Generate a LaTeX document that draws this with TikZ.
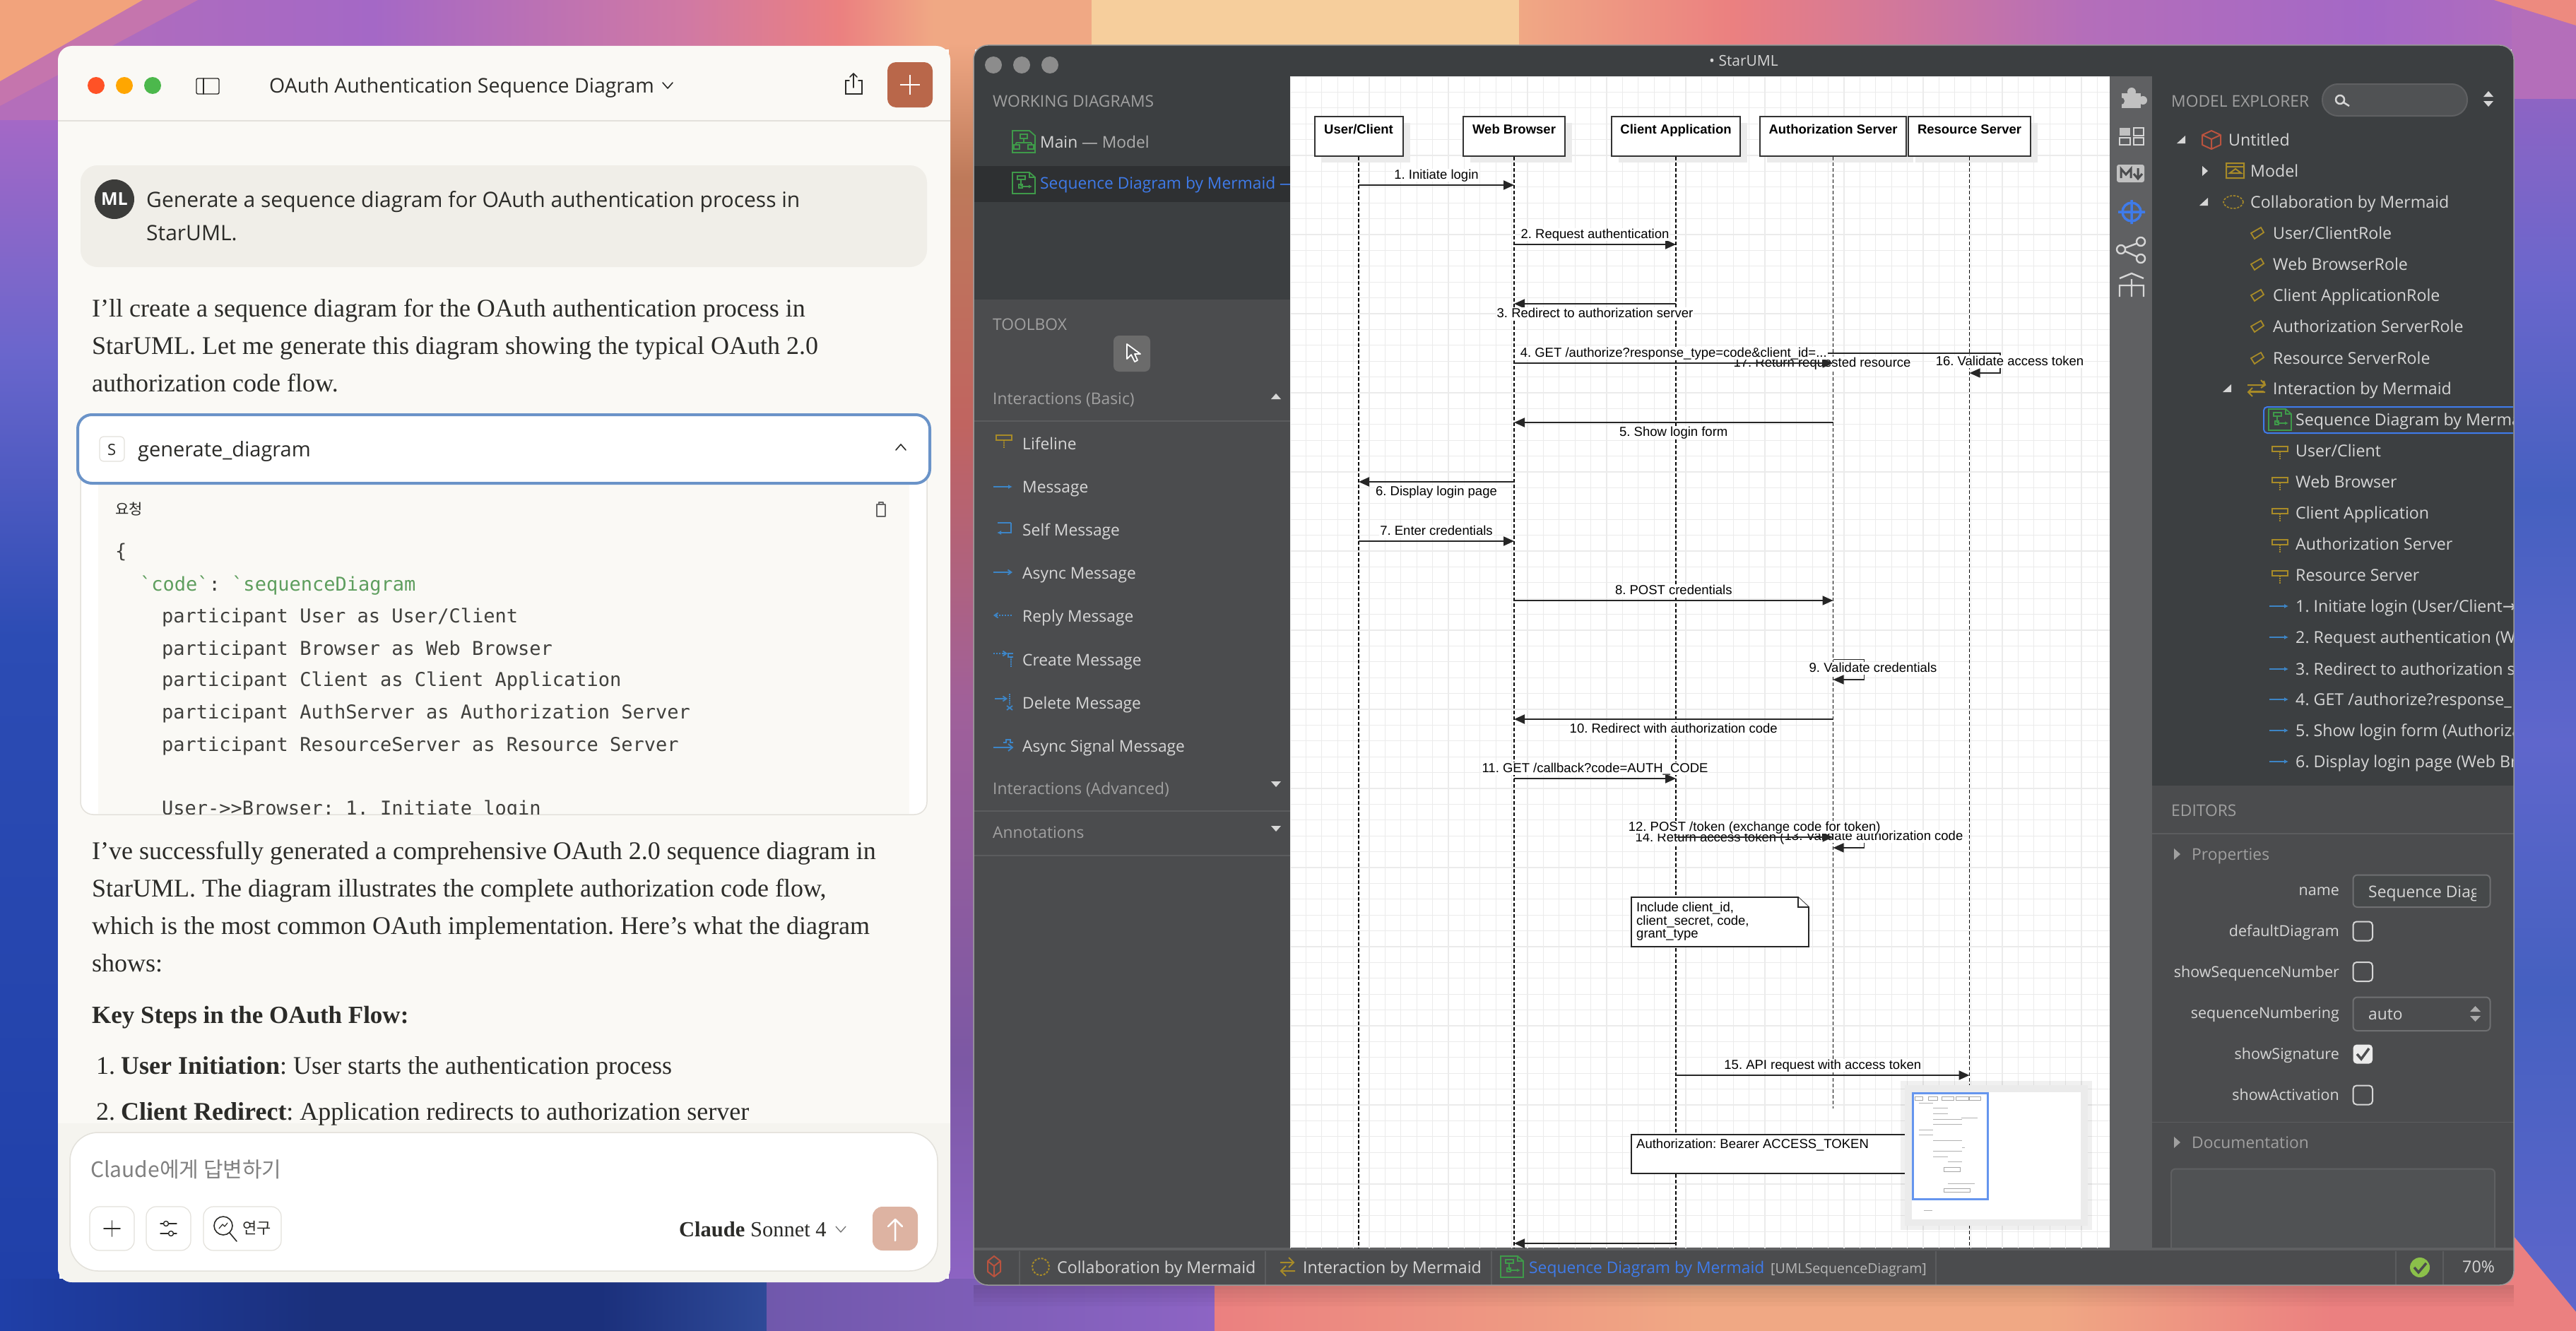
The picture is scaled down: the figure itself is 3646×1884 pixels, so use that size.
\documentclass[tikz,border=0pt]{standalone}
\usepackage{fontspec}
\setmainfont{Liberation Serif}
\newfontfamily\chatsans{Open Sans}
\newfontfamily\uisans{Open Sans}
\newfontfamily\umlfont{Liberation Sans}
\newfontfamily\codefont{DejaVu Sans Mono}
\newfontfamily\krfont{Noto Sans CJK KR}
\newfontfamily\symfont{DejaVu Sans}
\usetikzlibrary{arrows.meta,shadows}
\def\fsz#1{\fontsize{#1}{#1}\selectfont}
% wallpaper
\definecolor{worange}{HTML}{F2A37C}
\definecolor{wpeach}{HTML}{F0A884}
\definecolor{wsand}{HTML}{F6CE9C}
\definecolor{wsalmon}{HTML}{EB8080}
\definecolor{wrose}{HTML}{D079A4}
\definecolor{wmauve}{HTML}{B46EBA}
\definecolor{wviolet}{HTML}{A468C6}
\definecolor{wlilac}{HTML}{8D64C4}
\definecolor{wiris}{HTML}{6A66CC}
\definecolor{wblue}{HTML}{4560C0}
\definecolor{wperi}{HTML}{5F66CC}
\definecolor{wroyal}{HTML}{2C4CB4}
\definecolor{wcobalt}{HTML}{1F3FA8}
\definecolor{wnavy}{HTML}{1B307C}
\definecolor{wdeep}{HTML}{2F4A98}
\definecolor{wbrick}{HTML}{C06460}
\definecolor{wclay}{HTML}{BE7A5A}
\definecolor{wplum}{HTML}{A0609A}
\definecolor{wgrape}{HTML}{7C58A4}
\definecolor{wdusk}{HTML}{7058AC}
% chat window
\definecolor{chatbg}{HTML}{FAF9F5}
\definecolor{chatfoot}{HTML}{F5F4EF}
\definecolor{chatbubble}{HTML}{F0EEE8}
\definecolor{chatink}{HTML}{2B2B28}
\definecolor{chatline}{HTML}{E3E1DB}
\definecolor{chatrust}{HTML}{B9674A}
\definecolor{chatsend}{HTML}{DDB3A2}
\definecolor{chatblue}{HTML}{6A93C8}
\definecolor{codegreen}{HTML}{5E9E5E}
% staruml
\definecolor{umldark}{HTML}{3C3F41}
\definecolor{umlmid}{HTML}{4B4C4E}
\definecolor{umlbar}{HTML}{5F6062}
\definecolor{umlsel}{HTML}{2E3032}
\definecolor{umlrule}{HTML}{5B5C5E}
\definecolor{umlink}{HTML}{D6D6D6}
\definecolor{umlgray}{HTML}{A0A0A0}
\definecolor{umlblue}{HTML}{3F7BEA}
\definecolor{umlgold}{HTML}{A88B28}
\definecolor{umlgreen}{HTML}{3F9A4A}
\definecolor{umlarrow}{HTML}{3D85C6}
\definecolor{umlred}{HTML}{B9533F}
\definecolor{umlgrass}{HTML}{8BC04A}
\tikzset{
    txt/.style={anchor=west,inner sep=0pt,text depth=0pt,text height=#1},
    chathead/.style={txt=20pt,font=\chatsans\fsz{30},text=chatink},
    chatbody/.style={txt=23pt,font=\fsz{36},text=chatink},
    codeline/.style={txt=19pt,font=\codefont\fsz{27},text=chatink!90},
    uitext/.style={txt=16pt,font=\uisans\fsz{22.8},text=umlink},
    treetext/.style={uitext,font=\uisans\fsz{23.2}},
    grayhead/.style={uitext,text=umlgray},
    proplabel/.style={uitext,anchor=east,font=\uisans\fsz{21.5}},
    statustext/.style={uitext,font=\uisans\fsz{23.2}},
    chatkey/.style={draw=chatline,line width=1.2pt,fill=white,rounded corners=14pt},
    thinicon/.style={draw=chatink,line width=1.6pt,line cap=round,line join=round},
    lighticon/.style={draw=umlink,line width=2pt},
    gridline/.style={draw=black!8,line width=1.2pt},
    headbox/.style={draw=black!80,line width=2pt,fill=white,inner sep=0pt,
        text height=24pt,text depth=32pt,minimum width=#1,anchor=north,
        font=\umlfont\bfseries\fsz{18.5},
        drop shadow={shadow xshift=10pt,shadow yshift=-9pt,fill=black!8,opacity=1}},
    lifeline/.style={draw=black,line width=1.5pt,dash pattern=on 5pt off 3pt},
    msgline/.style={draw=black!85,line width=2pt,-{Triangle[length=15pt,width=13pt]}},
    selfline/.style={draw=black!85,line width=1.5pt,-{Triangle[length=15pt,width=13pt]}},
    msglabel/.style={fill=white,inner sep=1pt,text height=13pt,text depth=3pt,font=\umlfont\fsz{18.5}},
    msgup/.style={msglabel,midway,yshift=14pt},
    msgdown/.style={msglabel,midway,yshift=-14pt},
    notebox/.style={draw=black!85,line width=1.8pt,fill=white}
}
\def\DiagIcon#1#2{
    \begin{scope}[shift={(#1,#2)},draw=umlgreen,line width=1.8pt]
        \draw (0,0) -- (24,0) -- (32,7) -- (32,30) -- (0,30) -- cycle;
        \draw (24,0) -- (24,7) -- (32,7);
        \draw (7,5) rectangle (18,10) (12,10) -- (12,20) (9,17) rectangle (14,22);
        \draw[-{Latex[length=5pt,width=5pt]}] (13,20) -- (28,20);
    \end{scope}
}
\def\LifeIcon#1#2{
    \begin{scope}[shift={(#1,#2)},draw=umlgold,line width=1.8pt]
        \draw (-11,-8) rectangle (11,-1);
        \draw[line width=1.2pt,dash pattern=on 1.5pt off 1.5pt] (0,-1) -- (0,10);
    \end{scope}
}
\def\ArrowIcon#1#2{
    \draw[draw=umlarrow,line width=1.8pt,-{Latex[length=6pt,width=6pt]}] (#1,#2) -- ++(27,0);
}
\def\RoleIcon#1#2{
    \draw[draw=umlgold,line width=1.8pt] (#1-9,#2) -- (#1+5,#2-8) -- (#1+9,#2-1) -- (#1-4,#2+8) -- cycle;
}
\begin{document}
\frenchspacing
\begin{tikzpicture}[x=1pt,y=-1pt]
    \useasboundingbox (0,0) rectangle (3646,1884);
    % wallpaper
    \foreach \xa/\xb/\ca/\cb in {0/528/wmauve/wviolet,528/968/wviolet/wrose,968/1188/wrose/wsalmon,
        1188/1320/wsalmon/wpeach,1320/1545/wpeach/wpeach,1545/2150/wsand/wsand,2150/2450/wpeach/wsalmon,
        2450/2950/wsalmon/wmauve,2950/3350/wmauve/wviolet,3350/3646/wviolet/wmauve}
        \shade[left color=\ca,right color=\cb] (\xa,0) rectangle (\xb+1,70);
    \foreach \ya/\yb/\ca/\cb in {0/170/wmauve/wmauve,170/500/wviolet/wiris,500/900/wiris/wroyal,900/1884/wroyal/wcobalt}
        \shade[top color=\ca,bottom color=\cb] (0,\ya) rectangle (84,\yb+1);
    \fill[wrose!60!wmauve] (0,115) -- (202,0) -- (280,0) -- (0,150) -- cycle;
    \fill[worange] (0,0) -- (202,0) -- (0,115) -- cycle;
    \foreach \ya/\yb/\ca/\cb in {60/250/wpeach/wclay,250/600/wclay/wbrick,600/1000/wbrick/wplum,1000/1500/wplum/wgrape,1500/1820/wgrape/wlilac}
        \shade[top color=\ca,bottom color=\cb] (1343,\ya) rectangle (1380,\yb+1);
    \foreach \ya/\yb/\ca/\cb in {0/140/wmauve/wmauve,140/400/wlilac/wiris,400/700/wiris/wblue,700/1050/wblue/wperi,1050/1400/wperi/wblue,1400/1884/wblue/wperi}
        \shade[top color=\ca,bottom color=\cb] (3555,\ya) rectangle (3646,\yb+1);
    \fill[wsalmon!70!worange] (3530,0) -- (3646,0) -- (3646,36) -- cycle;
    \fill[wsalmon] (3500,1750) -- (3558,1750) -- (3646,1857) -- (3646,1884) -- (3500,1884) -- cycle;
    \foreach \xa/\xb/\ca/\cb in {0/450/wcobalt/wnavy,450/850/wnavy/wnavy,850/1085/wnavy/wdeep,1085/1719/wdusk/wlilac,
        1719/2400/wsalmon/wpeach,2400/2900/wpeach/wpeach,2900/3300/wpeach/wsalmon,3300/3500/wsalmon/wsalmon}
        \shade[left color=\ca,right color=\cb] (\xa,1810) rectangle (\xb+1,1884);
    \foreach \h in {6,12,18,24,30}
        \fill[black,opacity=.025] (1378,1819) rectangle (3558,1819+\h);

    % chat window
    \fill[chatbg,rounded corners=20pt] (82,65) rectangle (1345,1815);
    \begin{scope}
        \clip[rounded corners=20pt] (82,65) rectangle (1345,1815);
        \fill[chatfoot] (82,1590) rectangle (1345,1815);
    \end{scope}
    \draw[chatline,line width=2pt] (82,171) -- (1345,171);
    \fill[fill=red!60!orange!85] (136,121) circle (12pt);
    \fill[fill=orange!70!yellow] (176,121) circle (12pt);
    \fill[fill=green!60!black!70!white] (216,121) circle (12pt);
    \draw[thinicon,line width=1.4pt,rounded corners=2pt] (278,111) rectangle (310,133);
    \draw[thinicon,line width=1.4pt] (288,111) -- (288,133);
    \node[chathead,font=\chatsans\fsz{28.5}] (chattitle) at (381,121) {OAuth Authentication Sequence Diagram};
    \draw[thinicon] (938,117) -- (945,125) -- (952,117);
    \draw[thinicon,line join=miter] (1202,114) -- (1197,114) -- (1197,133) -- (1220,133) -- (1220,114) -- (1215,114);
    \draw[thinicon] (1208,124) -- (1208,104) (1203,109) -- (1208,104) -- (1213,109);
    \fill[chatrust,rounded corners=12pt] (1256,88) rectangle (1320,152);
    \draw[white,line width=2.5pt] (1288,106) -- (1288,134) (1274,120) -- (1302,120);

    \fill[chatbubble,rounded corners=24pt] (114,234) rectangle (1312,378);
    \node[circle,fill=black!75!chatbubble,minimum size=56pt,inner sep=0pt,text=white,font=\chatsans\bfseries\fsz{25}] (avatar) at (162,282) {ML};
    \node[chathead] (ask1) at (207,283) {Generate a sequence diagram for OAuth authentication process in};
    \node[chathead] (ask2) at (207,330) {StarUML.};
    \node[chatbody] (intro1) at (130,437) {I'll create a sequence diagram for the OAuth authentication process in};
    \node[chatbody] (intro2) at (130,490) {StarUML. Let me generate this diagram showing the typical OAuth 2.0};
    \node[chatbody] (intro3) at (130,543) {authorization code flow.};

    % tool call panel
    \draw[chatline,line width=1.5pt,fill=white,rounded corners=18pt] (114,640) rectangle (1312,1153);
    \fill[chatbg] (139,680) rectangle (1287,1152);
    \begin{scope}
        \clip (139,680) rectangle (1287,1152);
        \node[chathead,txt=14pt,font=\krfont\fsz{21}] (reqlabel) at (163,721) {요청};
        \draw[thinicon,line width=1.2pt,draw=black!60] (1241,714) rectangle (1253,731);
        \draw[thinicon,line width=1.2pt,draw=black!60] (1244,714) -- (1244,711) -- (1250,711) -- (1250,714);
        \node[codeline] (code0) at (163,780) {\{};
        \node[codeline] (code1) at (198,827) {\textcolor{codegreen}{`code`}: \textcolor{codegreen}{`sequenceDiagram}};
        \node[codeline] (code2) at (229,872) {participant User as User/Client};
        \node[codeline] (code3) at (229,918) {participant Browser as Web Browser};
        \node[codeline] (code4) at (229,962) {participant Client as Client Application};
        \node[codeline] (code5) at (229,1008) {participant AuthServer as Authorization Server};
        \node[codeline] (code6) at (229,1054) {participant ResourceServer as Resource Server};
        \node[codeline] (code7) at (229,1144) {User->>Browser: 1. Initiate login};
    \end{scope}
    \draw[chatblue,line width=4pt,fill=white,rounded corners=20pt] (110,587) rectangle (1316,684);
    \draw[chatline,line width=1.2pt,fill=white,rounded corners=6pt] (141,618) rectangle (176,653);
    \node[chathead,font=\chatsans\fsz{22},txt=16pt] (skey) at (152,636) {S};
    \node[chathead,font=\chatsans\fsz{29}] (toolname) at (195,636) {generate\_diagram};
    \draw[thinicon] (1268,637) -- (1275,629) -- (1282,637);

    \node[chatbody] (done1) at (130,1205) {I've successfully generated a comprehensive OAuth 2.0 sequence diagram in};
    \node[chatbody] (done2) at (130,1258) {StarUML. The diagram illustrates the complete authorization code flow,};
    \node[chatbody] (done3) at (130,1311) {which is the most common OAuth implementation. Here's what the diagram};
    \node[chatbody] (done4) at (130,1364) {shows:};
    \node[chatbody,font=\bfseries\fsz{35}] (keysteps) at (130,1437) {Key Steps in the OAuth Flow:};
    \node[chatbody] (step1) at (136,1509) {1.\hspace{8pt}\textbf{User Initiation}: User starts the authentication process};
    \node[chatbody] (step2) at (136,1574) {2.\hspace{8pt}\textbf{Client Redirect}: Application redirects to authorization server};

    % reply box
    \draw[chatline,line width=1.5pt,fill=white,rounded corners=40pt] (99,1603) rectangle (1327,1799);
    \node[chathead,font=\krfont\fsz{30},text=black!50] (replyhint) at (128,1656) {Claude에게 답변하기};
    \node[chatkey,minimum width=63pt,minimum height=62pt,inner sep=0pt] (addkey) at (158.5,1739) {};
    \node[chatkey,minimum width=63pt,minimum height=62pt,inner sep=0pt] (tunekey) at (238.5,1739) {};
    \node[chatkey,minimum width=110pt,minimum height=62pt,inner sep=0pt] (searchkey) at (343,1739) {};
    \draw[thinicon] (158.5,1728) -- (158.5,1750) (147,1739) -- (170,1739);
    \draw[thinicon,line width=1.4pt] (227,1732) -- (250,1732) (227,1746) -- (250,1746);
    \filldraw[thinicon,line width=1.4pt,fill=white] (235,1732) circle (3.5pt) (242,1746) circle (3.5pt);
    \draw[thinicon,line width=1.6pt] (316,1735) circle (13pt) (325,1745) -- (335,1757);
    \draw[thinicon,line width=1.2pt] (310,1739) -- (315,1733) -- (318,1736) -- (322,1731);
    \node[chathead,txt=15pt,font=\krfont\fsz{22}] (searchword) at (343,1739) {연구};
    \node[chatbody,txt=20pt,font=\fsz{30.5}] (modelname) at (961,1740) {\textbf{Claude} Sonnet 4};
    \draw[thinicon,line width=1.3pt,draw=black!55] (1183,1736) -- (1190,1744) -- (1197,1736);
    \fill[chatsend,rounded corners=14pt] (1235,1708) rectangle (1299,1770);
    \draw[white,line width=2.5pt,line cap=round,line join=round] (1267,1756) -- (1267,1726) (1257,1736) -- (1267,1726) -- (1277,1736);

    % staruml window
    \begin{scope}
        \clip[rounded corners=20pt] (1378,64) rectangle (3558,1819);
        \fill[umldark] (1378,64) rectangle (3558,1112);
        \fill[umlsel] (1378,235) rectangle (1826,286);
        \fill[umlmid] (1378,424) rectangle (1826,1766);
        \fill[umlbar] (2986,108) rectangle (3046,1766);
        \fill[umlmid] (3046,1112) rectangle (3558,1766);
        \fill[umlmid] (1378,1766) rectangle (3558,1819);
        \draw[umlbar,line width=4pt] (1378,1768) -- (3558,1768);
        % title bar
        \foreach \xx/\dotname in {1406/dota,1446/dotb,1486/dotc}
            \node[circle,fill=black!45!white,minimum size=24pt,inner sep=0pt] (\dotname) at (\xx,92) {};
        \node[uitext,anchor=center,font=\uisans\fsz{21}] (wintitle) at (2468,85) {• StarUML};
        % working diagrams
        \node[grayhead] (workhead) at (1405,143) {WORKING DIAGRAMS};
        \begin{scope}[shift={(1433,185)},draw=umlgreen,line width=1.8pt]
            \draw (0,0) -- (24,0) -- (32,7) -- (32,31) -- (0,31) -- cycle;
            \draw (11,5) rectangle (21,11) (16,11) -- (16,17) (5,17) -- (27,17) (5,17) -- (5,20) (27,17) -- (27,20) (2,20) rectangle (10,26) (22,20) rectangle (30,26);
        \end{scope}
        \node[uitext] (workmain) at (1472,201) {Main \textcolor{umlgray!85}{— Model}};
        \DiagIcon{1433}{244}
        \node[uitext,text=umlblue] (workseq) at (1472,259) {Sequence Diagram by Mermaid —};
        % toolbox
        \node[grayhead] (toolhead) at (1405,459) {TOOLBOX};
        \fill[rounded corners=8pt,fill=black!58!white] (1576,475) rectangle (1628,526);
        \draw[white,line width=1.8pt,fill=umlbar,line join=round] (1595,487) -- (1595,508) -- (1601,502) -- (1606,512) -- (1610,510) -- (1606,501) -- (1614,501) -- cycle;
        \node[grayhead] (toolbasic) at (1405,564) {Interactions (Basic)};
        \fill[umlink] (1799,565) -- (1813,565) -- (1806,557) -- cycle;
        \draw[umlrule,line width=1.5pt] (1378,596) -- (1826,596);
        \foreach \yy/\nm/\txt in {628/toola/Lifeline,689/toolb/Message,750/toolc/Self Message,811/toold/Async Message,872/toole/Reply Message,934/toolf/Create Message,995/toolg/Delete Message,1056/toolh/Async Signal Message}
            \node[uitext] (\nm) at (1447,\yy) {\txt};
        \LifeIcon{1421}{624}
        \ArrowIcon{1406}{689}
        \begin{scope}[draw=umlarrow,line width=1.8pt]
            \draw[-{Latex[length=6pt,width=6pt]}] (1431,740) -- (1431,754) -- (1411,754);
            \draw (1431,740) -- (1412,740);
            \draw[-{Straight Barb[length=5pt,width=7pt]}] (1406,810) -- (1433,810);
            \draw[dash pattern=on 2pt off 2pt,-{Straight Barb[length=5pt,width=7pt]}] (1432,871) -- (1406,871);
            \draw[dash pattern=on 2pt off 2pt] (1406,925) -- (1417,925);
            \draw[-{Straight Barb[length=5pt,width=7pt]}] (1418,925) -- (1426,925);
            \draw (1434,925) -- (1427,925) -- (1427,930) -- (1434,930);
            \draw[line width=1.2pt,dash pattern=on 1.5pt off 1.5pt] (1431,930) -- (1431,944);
            \draw[-{Straight Barb[length=5pt,width=7pt]}] (1408,989) -- (1426,989);
            \draw (1425,999) -- (1433,1005) (1433,999) -- (1425,1005);
            \draw[line width=1.2pt,dash pattern=on 1.5pt off 1.5pt] (1429,982) -- (1429,998);
            \draw (1406,1058) -- (1433,1058) (1427,1053) -- (1433,1058) -- (1427,1063);
            \draw (1420,1051) -- (1424,1051) -- (1424,1047) -- (1430,1047) -- (1430,1051) -- (1434,1051);
        \end{scope}
        \node[grayhead] (tooladv) at (1405,1116) {Interactions (Advanced)};
        \fill[umlink] (1799,1106) -- (1813,1106) -- (1806,1114) -- cycle;
        \draw[umlrule,line width=1.5pt] (1378,1148) -- (1826,1148);
        \node[grayhead] (toolnotes) at (1405,1178) {Annotations};
        \fill[umlink] (1799,1169) -- (1813,1169) -- (1806,1177) -- cycle;
        \draw[umlrule,line width=1.5pt] (1378,1211) -- (1826,1211);
        % canvas
        \begin{scope}
            \clip (1826,108) rectangle (2986,1766);
            \fill[white] (1826,108) rectangle (2986,1766);
            \foreach \i in {0,...,52} \draw[gridline] ({1826+22.4*\i},108) -- ++(0,1660);
            \foreach \i in {0,...,74} \draw[gridline] (1826,{108+22.4*\i}) -- ++(1160,0);
            \node[headbox=125pt] (userclient) at (1923,164) {User/Client};
            \node[headbox=144pt] (webbrowser) at (2143,164) {Web Browser};
            \node[headbox=182pt] (clientapp) at (2372,164) {Client Application};
            \node[headbox=207pt] (authserver) at (2594.5,164) {Authorization Server};
            \node[headbox=173pt] (resserver) at (2787.5,164) {Resource Server};
            \coordinate (canvasend) at (0,1768);
            \coordinate (authend) at (0,1569);
            \foreach \headname in {userclient,webbrowser,resserver}
                \draw[lifeline] (\headname.south) -- (\headname.south |- canvasend);
            \draw[lifeline,line width=2pt] (clientapp.south) -- (clientapp.south |- canvasend);
            \draw[lifeline] (authserver.south) -- (authserver.south |- authend);

            \draw[msgline] (userclient |- 0,262) -- node[msgup] (msga) {1. Initiate login} (webbrowser |- 0,262);
            \draw[msgline] (webbrowser |- 0,346) -- node[msgup] (msgb) {2. Request authentication} (clientapp |- 0,346);
            \draw[msgline] (clientapp |- 0,430) -- node[msgdown] (msgc) {3. Redirect to authorization server} (webbrowser |- 0,430);
            \coordinate (retq) at (2584,500);
            \draw[selfline] (retq) -- (2831,500) -- (2831,528) -- (resserver |- 0,528);
            \node[msglabel] (msgp) at (2844.5,512) {16. Validate access token};
            \node[msglabel] (msgq) at (2579,514) {17. Return requested resource};
            \draw[msgline] (webbrowser |- 0,514) -- node[msgup] (msgd) {4. GET /authorize?response\_type=code\&client\_id=...} (authserver |- 0,514);
            \draw[msgline] (authserver |- 0,598) -- node[msgdown] (msge) {5. Show login form} (webbrowser |- 0,598);
            \draw[msgline] (webbrowser |- 0,682) -- node[msgdown] (msgf) {6. Display login page} (userclient |- 0,682);
            \draw[msgline] (userclient |- 0,766) -- node[msgup] (msgg) {7. Enter credentials} (webbrowser |- 0,766);
            \draw[msgline] (webbrowser |- 0,850) -- node[msgup] (msgh) {8. POST credentials} (authserver |- 0,850);
            \draw[selfline] (authserver |- 0,933.5) -- ++(44,0) -- ++(0,28.5) -- (authserver |- 0,962);
            \node[msglabel] (msgi) at (2651,946) {9. Validate credentials};
            \draw[msgline] (authserver |- 0,1018) -- node[msgdown] (msgj) {10. Redirect with authorization code} (webbrowser |- 0,1018);
            \draw[msgline] (webbrowser |- 0,1102) -- node[msgup] (msgk) {11. GET /callback?code=AUTH\_CODE} (clientapp |- 0,1102);
            \draw[selfline] (authserver |- 0,1185) -- ++(44,0) -- ++(0,15) -- (authserver |- 0,1200);
            \node[msglabel] (msgn) at (2420,1186) {14. Return access token (};
            \node[msglabel] (msgm) at (2652,1184) {13. Validate authorization code};
            \draw[msgline] (clientapp |- 0,1185) -- node[msgup] (msgl) {12. POST /token (exchange code for token)} (authserver |- 0,1185);
            \draw[notebox] (2309,1270) -- (2545,1270) -- (2560,1284) -- (2560,1340) -- (2309,1340) -- cycle;
            \draw[notebox] (2545,1270) -- (2545,1284) -- (2560,1284);
            \node[anchor=north west,inner sep=0pt,align=left,font=\umlfont\fsz{18.5}] (notea) at (2316,1277) {Include client\_id,\\client\_secret, code,\\grant\_type};
            \draw[msgline] (clientapp |- 0,1522) -- node[msgup] (msgo) {15. API request with access token} (resserver |- 0,1522);
            \draw[notebox] (2309,1606) rectangle (2720,1661);
            \node[anchor=west,inner sep=0pt,font=\umlfont\fsz{18.5}] (noteb) at (2316,1621) {Authorization: Bearer ACCESS\_TOKEN};
            \draw[msgline] (clientapp |- 0,1760) -- (webbrowser |- 0,1760);
            % minimap
            \fill[black,opacity=.06] (2690,1530) rectangle (2961,1741);
            \fill[black!8] (2696,1536) rectangle (2955,1735);
            \fill[white] (2706,1546) rectangle (2945,1726);
            \begin{scope}[shift={(2707,1547)},xscale=0.0914,yscale=0.0905,shift={(-1826,-108)}]
                \foreach \xa/\xb in {1860/1985,2071/2215,2281/2463,2491/2698,2701/2874}
                    \draw[black!35,line width=.5pt] (\xa,164) rectangle (\xb,220);
                \foreach \yy/\xa/\xb in {262/1923/2143,346/2143/2372,430/2143/2372,500/2584/2831,514/2143/2594,598/2143/2594,682/1923/2143,766/1923/2143,850/2143/2594,962/2594/2638,1018/2143/2594,1102/2143/2372,1185/2372/2594,1522/2372/2788,1760/2143/2372,1940/2000/2130}
                    \draw[black!30,line width=.5pt] (\xa,\yy) -- (\xb,\yy);
                \draw[black!35,line width=.5pt] (2309,1270) rectangle (2560,1340) (2309,1606) rectangle (2720,1661);
            \end{scope}
            \draw[umlblue!80!white,line width=3pt] (2707,1547) rectangle (2813,1697);
        \end{scope}
        % side icons
        \begin{scope}[fill=umlink!90!black]
            \fill (3003,132) rectangle (3030,153);
            \fill (3017,130) circle (6pt) (3033,142) circle (6pt);
            \fill (3000,180.5) rectangle (3015,192);
            \fill[rounded corners=3pt] (2996,233) rectangle (3035,258);
        \end{scope}
        \fill[umlbar] (3002,143) circle (5pt);
        \draw[lighticon] (3000,195) rectangle (3015,205) (3020,180.5) rectangle (3034,192) (3020,195) rectangle (3034,205);
        \draw[umlmid,line width=3pt,line join=miter] (3002,252) -- (3002,239) -- (3009,247) -- (3016,239) -- (3016,252);
        \draw[umlmid,line width=3pt] (3026,238) -- (3026,252) (3020,246) -- (3026,253) -- (3032,246);
        \draw[umlblue,line width=3.5pt] (3017,300) circle (13pt) (2998,300) -- (3036,300) (3017,283) -- (3017,317);
        \draw[lighticon,line width=2.4pt] (3002,353) -- (3026,344) (3002,353) -- (3026,364);
        \filldraw[lighticon,line width=2.4pt,fill=umlbar] (3002,353) circle (6pt) (3030,342) circle (6pt) (3030,366) circle (6pt);
        \draw[lighticon,line width=2.4pt] (3000,394) -- (3017,387) -- (3034,394) (3000,420) -- (3000,404) -- (3034,404) -- (3034,420) (3017,395) -- (3017,420);
        % explorer
        \node[grayhead] (explhead) at (3073,143.6) {MODEL EXPLORER};
        \draw[umlbar,line width=2pt,fill=umldark!90!white,rounded corners=22pt] (3287,119) rectangle (3492,164);
        \draw[umlink,line width=2.5pt] (3312,141) circle (6pt) (3317,145) -- (3325,150);
        \fill[umlink] (3515,137) -- (3529,137) -- (3522,129) -- cycle (3515,143) -- (3529,143) -- (3522,151) -- cycle;
        \begin{scope}
            \clip (3046,108) rectangle (3557,1104);
            \draw[umlblue,line width=2pt,rounded corners=5pt] (3204,576) rectangle (3600,613);
            \foreach \yy/\xx/\txt [count=\n] in {198/3154/Untitled,242/3185/Model,286/3185/Collaboration by Mermaid,
                330/3217/{User/ClientRole},374/3217/Web BrowserRole,418/3217/Client ApplicationRole,462/3217/Authorization ServerRole,
                507/3217/Resource ServerRole,550/3217/Interaction by Mermaid,594/3249/Sequence Diagram by Merma,638/3249/{User/Client},
                682/3249/Web Browser,726/3249/Client Application,770/3249/Authorization Server,814/3249/Resource Server,
                858/3249/{1. Initiate login (User/Client{\symfont→}},902/3249/2. Request authentication (W,947/3249/3. Redirect to authorization s,
                990/3249/{4. GET /authorize?response\_},1034/3249/5. Show login form (Authoriza,1078/3249/6. Display login page (Web Br}
                \node[treetext] (tree\n) at (\xx,\yy) {\txt};
        \end{scope}
        \foreach \xx/\yy in {3087/198,3119/286,3152/550}
            \fill[umlink] (\xx-6,\yy+5) -- (\xx+6,\yy+5) -- (\xx+6,\yy-6) -- cycle;
        \fill[umlink] (3117,235) -- (3125,242) -- (3117,249) -- cycle;
        \draw[umlred,line width=2pt,line join=round] (3117,191) -- (3130,185) -- (3143,191) -- (3143,205) -- (3130,211) -- (3117,205) -- cycle (3117,191) -- (3130,197) -- (3143,191) (3130,197) -- (3130,211);
        \draw[umlgold,line width=2pt] (3151,231) rectangle (3176,252) (3151,236) -- (3176,236) (3156,245) -- (3164,239) -- (3172,245) -- cycle;
        \draw[umlgold,line width=1.6pt,dash pattern=on 3pt off 2pt] (3161,286) ellipse (14pt and 9pt);
        \foreach \yy in {330,374,418,462,507} {\RoleIcon{3195}{\yy}}
        \begin{scope}[draw=umlgold,line width=2pt]
            \draw (3184,545) -- (3204,545) (3204,539) -- (3206,545) (3181,545) -- (3204,545) (3200,538) -- (3206,545) -- (3200,549);
            \draw (3184,554) -- (3204,554) (3188,549) -- (3182,555) -- (3188,561) (3182,555) -- (3206,555);
        \end{scope}
        \DiagIcon{3211}{579}
        \foreach \yy in {640,684,728,772,816} {\LifeIcon{3227}{\yy}}
        \foreach \yy in {858,902,947,990,1034,1078} {\ArrowIcon{3212}{\yy}}
        % editors
        \node[grayhead] (edithead) at (3073,1147) {EDITORS};
        \draw[umlrule,line width=1.5pt] (3046,1180) -- (3558,1180);
        \fill[umlgray] (3077,1201) -- (3086,1209) -- (3077,1217) -- cycle;
        \node[grayhead] (propshead) at (3102,1209) {Properties};
        \foreach \yy/\nm/\txt in {1259/propa/name,1317/propb/defaultDiagram,1375/propc/showSequenceNumber,1433/propd/sequenceNumbering,1491/prope/showSignature,1549/propf/showActivation}
            \node[proplabel] (\nm) at (3311,\yy) {\txt};
        \draw[umlbar!90!white,line width=2pt,fill=umldark!95!white,rounded corners=6pt] (3330.5,1238.5) rectangle (3524.5,1284);
        \draw[umlbar!90!white,line width=2pt,fill=umlmid,rounded corners=6pt] (3330.5,1411.5) rectangle (3524.5,1459);
        \begin{scope}
            \clip (3340,1240) rectangle (3504,1282);
            \node[uitext] (namefield) at (3352,1262) {Sequence Diagr};
        \end{scope}
        \node[uitext] (autofield) at (3352,1435) {auto};
        \fill[umlink!80!black] (3496,1432) -- (3511,1432) -- (3503.5,1424) -- cycle (3496,1438) -- (3511,1438) -- (3503.5,1446) -- cycle;
        \foreach \yy in {1304.5,1362,1536.5}
            \draw[umlink,line width=2pt,rounded corners=5pt] (3330.5,\yy) rectangle ++(27.5,27);
        \fill[fill=black!8,rounded corners=5pt] (3330.5,1478.5) rectangle ++(27.5,27);
        \draw[umlmid,line width=3.5pt] (3336,1492) -- (3342,1499) -- (3353,1484);
        \draw[umlrule,line width=1.5pt] (3046,1588.5) -- (3558,1588.5);
        \fill[umlgray] (3077,1609) -- (3086,1617) -- (3077,1625) -- cycle;
        \node[grayhead] (dochead) at (3102,1617) {Documentation};
        \draw[umlbar,line width=2pt,fill=umldark!90!white,rounded corners=6pt] (3073,1654.5) rectangle (3531,1790);
        \fill[umlmid] (3040,1766) rectangle (3558,1819);
        \draw[umlbar,line width=4pt] (2986,1768) -- (3558,1768);
        % status bar
        \foreach \xx in {1443,1791,2111,2740,3391,3458}
            \draw[umlrule,line width=1.2pt] (\xx,1771) -- (\xx,1819);
        \draw[umlred,line width=2pt,line join=round] (1398,1785) -- (1407,1778) -- (1416,1785) -- (1416,1800) -- (1407,1807) -- (1398,1800) -- cycle (1398,1785) -- (1407,1792) -- (1416,1785) (1407,1792) -- (1407,1807);
        \draw[umlgold,line width=2pt,dash pattern=on 3pt off 2pt] (1473,1793) circle (12pt);
        \begin{scope}[draw=umlgold,line width=2pt]
            \draw (1812,1787) -- (1830,1787) (1824,1780) -- (1831,1787) -- (1824,1794);
            \draw (1815,1799) -- (1833,1799) (1820,1792) -- (1813,1799) -- (1820,1806);
        \end{scope}
        \DiagIcon{2124}{1778}
        \node[statustext] (statcollab) at (1496,1794) {Collaboration by Mermaid};
        \node[statustext] (statinter) at (1844,1794) {Interaction by Mermaid};
        \node[statustext,text=umlblue,font=\uisans\fsz{22.8}] (statseq) at (2164,1794) {Sequence Diagram by Mermaid};
        \node[statustext,text=umlgray!75,font=\uisans\fsz{19.5}] (stattype) at (2506,1794) {[UMLSequenceDiagram]};
        \fill[umlgrass] (3425,1794) circle (14pt);
        \draw[umlmid,line width=3.5pt] (3417,1794) -- (3423,1801) -- (3434,1788);
        \node[statustext] (statzoom) at (3485,1793) {70\%};
    \end{scope}
    \draw[black!40,line width=1.5pt,rounded corners=20pt] (1378,64) rectangle (3558,1819);
\end{tikzpicture}
\end{document}
